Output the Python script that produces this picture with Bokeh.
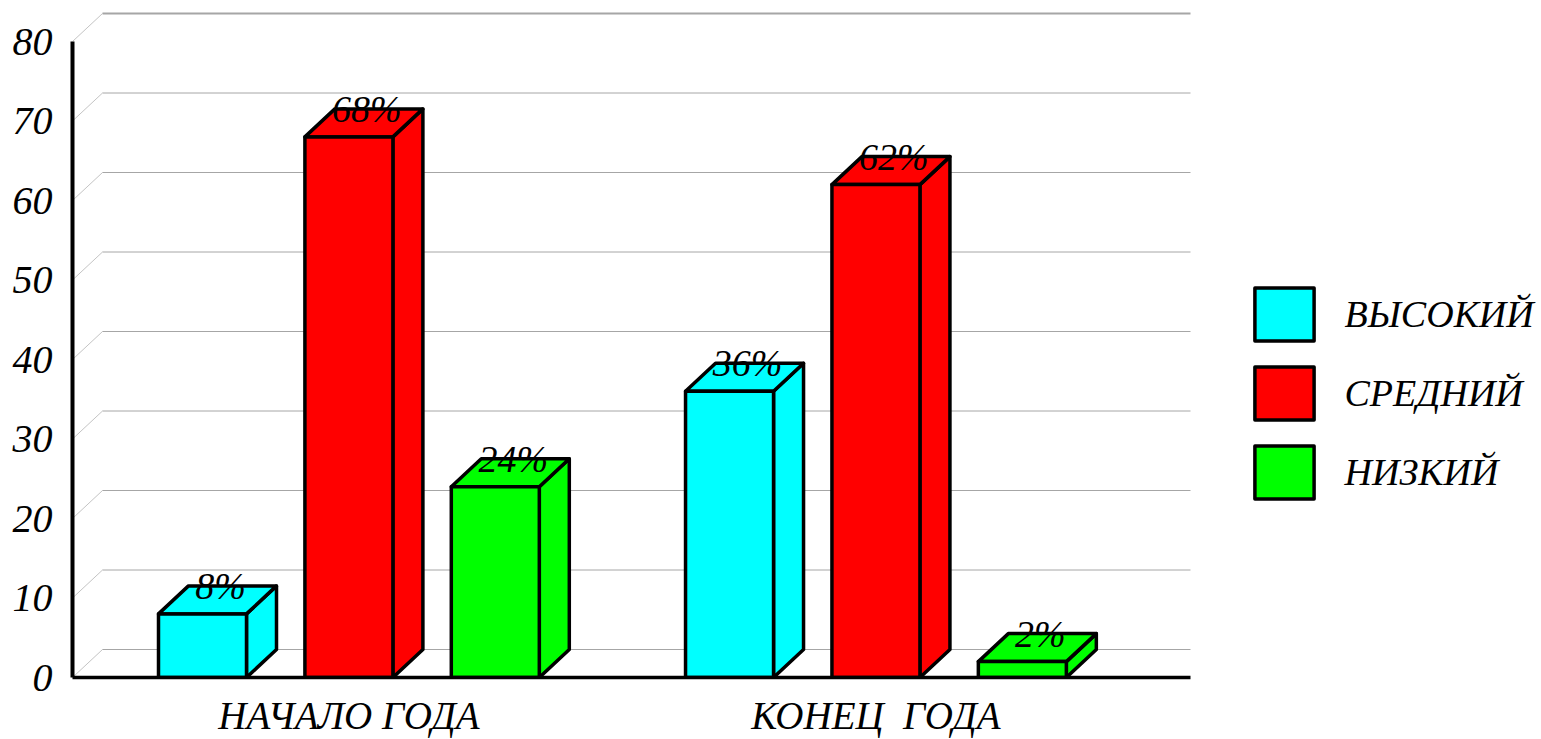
from bokeh.core.properties import value
from bokeh.embed import file_html
from bokeh.models import FixedTicker, Legend, LegendItem, Range1d
from bokeh.plotting import figure
from bokeh.resources import INLINE

# Share of pupils at each level, at the start and the end of the year
groups = ["НАЧАЛО ГОДА", "КОНЕЦ \u00a0ГОДА"]
levels = ["ВЫСОКИЙ", "СРЕДНИЙ", "НИЗКИЙ"]
high = [8, 36]
medium = [68, 62]
low = [24, 2]
y_ticks = [0, 10, 20, 30, 40, 50, 60, 70, 80]

series = [high, medium, low]
colors = ["#00ffff", "#ff0000", "#00ff00"]

FONT = "Liberation Serif"
WIDTH, HEIGHT = 1541, 739
LEFT, BOTTOM = 72, 62
PX_PER_SLOT = 146.4
PX_PER_UNIT = 7.95
FIRST_BAR_PX = 202
GROUP_STEP = 3.6          # distance between groups, in bar slots
BAR_W = 88 / PX_PER_SLOT
DEPTH_X = 30 / PX_PER_SLOT
DEPTH_Y = 28 / PX_PER_UNIT
AXIS_END = (1190 - FIRST_BAR_PX) / PX_PER_SLOT

p = figure(
    width=WIDTH, height=HEIGHT, output_backend="svg", toolbar_location=None,
    x_range=Range1d((LEFT - FIRST_BAR_PX) / PX_PER_SLOT, (WIDTH - FIRST_BAR_PX) / PX_PER_SLOT),
    y_range=Range1d(0, (HEIGHT - BOTTOM) / PX_PER_UNIT),
    min_border_left=LEFT, min_border_right=0, min_border_top=0, min_border_bottom=BOTTOM,
    background_fill_color="white", border_fill_color="white", outline_line_color=None,
)
p.grid.visible = False

# Back wall: slanted stub from the axis, then a line along the rear of the box
x_start = p.x_range.start
for tick in y_ticks:
    p.line([x_start, x_start + DEPTH_X], [tick, tick + DEPTH_Y], line_color="#c4c4c4", line_width=1)
    p.line([x_start + DEPTH_X, AXIS_END], [tick + DEPTH_Y] * 2, line_color="#a6a6a6",
           line_width=2 if tick == y_ticks[-1] else 1)

# Extruded bars: side and top faces first, the front face last
legend_items = []
edge = dict(line_color="black", line_width=3.5, line_join="round")
for s, (vals, color, name) in enumerate(zip(series, colors, levels)):
    front = None
    for g, v in enumerate(vals):
        xl = g * GROUP_STEP + s - BAR_W / 2
        xr = xl + BAR_W
        p.patch([xr, xr + DEPTH_X, xr + DEPTH_X, xr], [0, DEPTH_Y, v + DEPTH_Y, v],
                fill_color=color, **edge)
        p.patch([xl, xl + DEPTH_X, xr + DEPTH_X, xr], [v, v + DEPTH_Y, v + DEPTH_Y, v],
                fill_color=color, **edge)
        r = p.quad(left=[xl], right=[xr], bottom=[0], top=[v], fill_color=color, **edge)
        front = front or r
    legend_items.append(LegendItem(label=name, renderers=[front]))

# Percentage labels sit on the top face of each bar
for s, vals in enumerate(series):
    for g, v in enumerate(vals):
        p.text([g * GROUP_STEP + s + DEPTH_X * 0.6], [v + DEPTH_Y], text=[f"{v}%"],
               text_font=value(FONT), text_font_style="italic", text_font_size="38px",
               text_color="black", text_align="center", text_baseline="middle")

p.yaxis.ticker = FixedTicker(ticks=y_ticks)
p.yaxis.bounds = (y_ticks[0], y_ticks[-1])
p.yaxis.axis_line_color = "black"
p.yaxis.axis_line_width = 4
p.yaxis.major_tick_line_color = None
p.yaxis.minor_tick_line_color = None
p.yaxis.major_label_standoff = 14
p.yaxis.major_label_text_font = FONT
p.yaxis.major_label_text_font_style = "italic"
p.yaxis.major_label_text_font_size = "40px"
p.yaxis.major_label_text_color = "black"

group_ticks = [1, 1 + GROUP_STEP]
p.xaxis.ticker = FixedTicker(ticks=group_ticks)
p.xaxis.major_label_overrides = dict(zip(group_ticks, groups))
p.xaxis.bounds = (x_start, AXIS_END)
p.xaxis.axis_line_color = "black"
p.xaxis.axis_line_width = 3.5
p.xaxis.major_tick_line_color = None
p.xaxis.minor_tick_line_color = None
p.xaxis.major_label_standoff = 10
p.xaxis.major_label_text_font = FONT
p.xaxis.major_label_text_font_style = "italic"
p.xaxis.major_label_text_font_size = "39px"
p.xaxis.major_label_text_color = "black"

legend = Legend(
    items=legend_items, location=(1246.5 - LEFT, 172.5), orientation="vertical",
    background_fill_alpha=0, border_line_color=None, padding=0, margin=0,
    glyph_width=74, glyph_height=66, label_height=66, spacing=13, label_standoff=24,
    label_text_font=FONT, label_text_font_style="italic", label_text_font_size="38px",
    label_text_color="black",
)
p.add_layout(legend)

open("out.html", "w").write(file_html(p, INLINE))
